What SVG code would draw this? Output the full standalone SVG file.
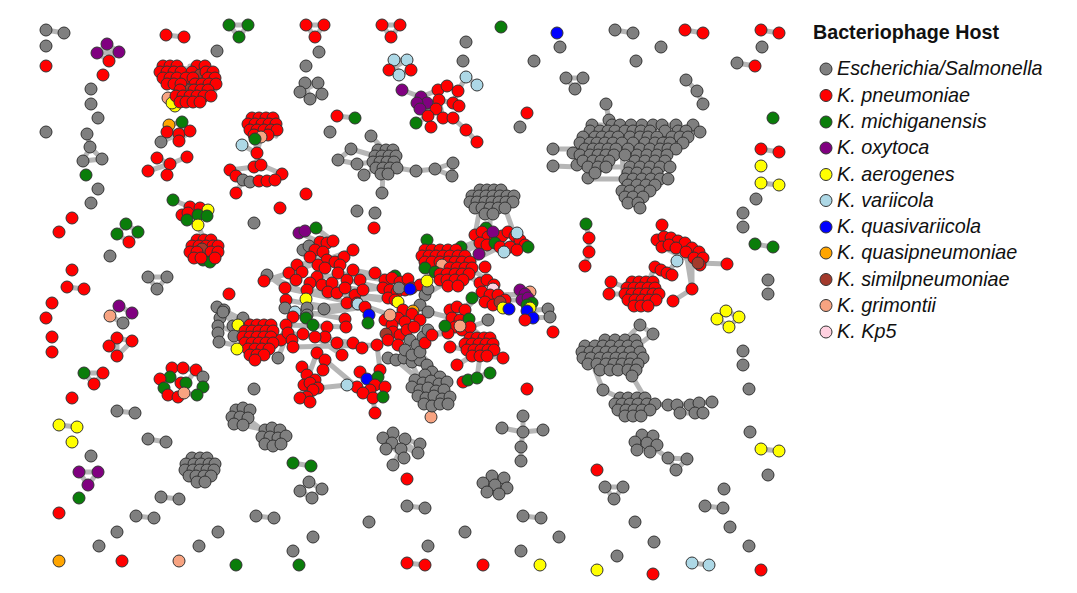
<svg xmlns="http://www.w3.org/2000/svg" width="1077" height="593" viewBox="0 0 1077 593">
<style>
.e{fill:none;stroke:#a9a9a9;stroke-width:5;stroke-linecap:round;stroke-linejoin:round;opacity:.85}
circle{stroke:#333;stroke-width:1}
.g{fill:#7f7f7f}.r{fill:#ff0000}.gn{fill:#0a7d0a}.p{fill:#800080}.y{fill:#ffff00}.lb{fill:#add8e6}.b{fill:#0000ff}.o{fill:#ffa500}.br{fill:#a33a2c}.s{fill:#f7a381}.pk{fill:#ffd1e0}
.lt{font-family:"Liberation Sans",Arial,sans-serif;font-size:19.8px;font-style:italic;fill:#111}
.tt{font-family:"Liberation Sans",Arial,sans-serif;font-size:19.7px;font-weight:bold;fill:#111}
</style>
<rect width="1077" height="593" fill="#fff"/>
<g id="edges">
<path class="e" d="M46,30 L64,33 M107,44 L97,53 L109,61 L119,52 Z M97,53 L119,52 M166,35 L184,37 M229,25 L248,25 L239,37 Z M87,134 L90,147 L83,161 L102,159 L90,147
M163,66 L213,72 M160,72 L216,84 M167,84 L211,96 M176,96 L200,102 M170,70 L183,102 M190,66 L205,100 M205,66 L215,90 M168,98 L180,92
M169,125 L182,122 L190,131 L179,141 L167,132 L169,125 M161,142 L179,134 M167,132 L190,131 M182,122 L179,141
M157,158 L170,164 L187,157 M148,171 L170,164 L167,175
M250,118 L276,136 M248,124 L277,130 M252,136 L273,118 M242,145 L257,153 L255,139 M261,137 L257,153 L257,167 M230,170 L254,167 L261,165 L282,174 M236,176 L259,181 L275,180 M243,180 L236,193 M250,182 L259,181 M243,180 L230,170
M306,25 L324,25 L315,37 Z M382,25 L400,25 L391,37 Z
M305,83 L318,83 L322,94 L310,99 L300,92 Z M305,83 L310,99 M318,83 L300,92
M394,60 L407,60 L411,70 L399,75 L389,70 Z M394,60 L399,75 M407,60 L389,70
M402,90 L421,97 L438,90 M417,103 L427,103 L439,100 M420,109 L436,109 M447,86 L458,91 L466,77 L477,85 M439,100 L453,103 L459,106 M436,109 L428,116 L431,127 M443,118 L453,118 L466,130 L477,142 M416,123 L428,116 M438,90 L447,86 M439,100 L443,118 M458,91 L453,103
M337,116 L355,118
M371,136 L384,150 M351,149 L338,160 L357,164 L373,162 M351,149 L375,156 M364,175 L376,168 M382,193 L383,174 M397,168 L416,171 L435,169 L453,163 L452,176 L435,169 M378,150 L390,168 M394,156 L381,174
M615,30 L633,33 M685,30 L703,33 M761,30 L779,33 M737,63 L755,66 M566,78 L583,78 L575,89 Z M686,80 L697,91 L703,104 M761,149 L779,152 M761,183 L779,185
M592,125 L676,125 M583,137 L688,137 M575,149 L676,149 M578,167 L670,167 M590,179 L668,179 M628,185 L655,185 M622,191 L650,191 M625,197 L640,208 M606,104 L609,120 L600,131 M693,125 L700,132 L686,131 M553,149 L580,149 M553,166 L578,167 M588,178 L590,161 M600,131 L590,179 M620,125 L625,197 M650,125 L660,185 M640,131 L640,208
M662,225 L664,237 M657,240 L703,258 M662,247 L700,265 M698,263 L727,264 M692,258 L692,289 L673,301 M677,261 L667,273 M655,267 L648,282 M611,282 L628,288 M609,294 L626,294 M632,282 L648,306 M627,288 L659,294 M625,294 L656,300 M653,282 L634,306 M686,252 L692,289
M586,224 L589,238 L589,252 L585,266 M755,244 L773,247 M726,311 L739,317 L729,327 L717,319 Z
M605,340 L635,340 M585,346 L637,346 M582,352 L640,352 M583,358 L643,358 M588,364 L638,364 M600,370 L636,370 M640,325 L653,334 L637,346 M640,325 L625,340 M595,370 L603,390 L620,398 M632,376 L645,398 M620,398 L645,398 M615,404 L655,404 M618,410 L650,410 M625,416 L641,416 M655,404 L668,405 L712,402 M680,413 L703,413 M677,405 L680,413 M699,403 L703,413
M642,435 L657,445 M635,442 L650,452 M647,443 L668,458 L687,459 L676,470 L668,458 M761,449 L779,451
M523,416 L523,432 L521,447 L521,461 M502,428 L523,432 L543,430
M492,476 L507,488 M483,483 L499,494 M504,478 L487,492
M407,506 L425,508 M523,516 L541,518 M705,506 L723,508 M407,563 L425,565 M692,563 L709,565 M605,487 L623,487 L614,499 Z
M393,433 L418,453 M383,438 L404,458 M405,439 L420,444 M401,449 L393,465 M392,443 L418,453
M309,482 L322,489 L312,498 L300,491 Z M293,463 L311,466
M117,411 L135,413 M59,425 L77,427 M148,439 L166,442 M79,472 L98,472 L88,485 Z M161,497 L179,499 M136,516 L154,518 M256,516 L274,518
M236,410 L281,444 M232,417 L250,410 M243,425 L265,430 M200,458 L200,482 M186,464 L214,470
M172,368 L183,368 L196,370 L203,377 L203,387 L197,395 L184,393 L178,397 L168,395 L164,388 L160,379 L170,377 L172,368 M181,383 L186,383 M170,377 L181,383 M196,370 L186,383
M126,224 L117,234 L129,242 L138,232 Z M67,287 L84,289 M148,277 L167,277 L157,289 Z M119,306 L132,313 L123,323 L110,316 Z
M117,338 L132,341 M109,346 L117,338 M109,346 L117,356 M132,341 L117,356 M117,338 L117,356 M84,373 L103,373 L94,384 Z
M173,200 L190,207 L200,208 L208,210 M182,215 L207,216 M187,220 L198,225 L204,240 M190,207 L187,220 M192,246 L218,252 M190,252 L215,258 M197,240 L203,263 M211,240 L203,263
M289,273 L353,250 M297,265 L344,257 M310,257 L335,262 M307,290 L355,295 M310,283 L363,290 M317,277 L375,273 M299,233 L320,242 M316,228 L333,241 M303,250 L320,242
M338,273 L385,280 M347,280 L390,290 M353,270 L392,278 M355,295 L388,298 M363,290 L383,288 M357,303 L390,315 M328,292 L380,300
M267,275 L300,290 M285,288 L340,300 M286,300 L345,310 M293,317 L365,307 M307,308 L358,304 M285,308 L345,319
M286,325 L346,327 M288,333 L353,343 M293,347 L377,345 M303,334 L362,348 M315,337 L342,355
M317,353 L300,398 M325,360 L310,402 M302,367 L318,388 M325,360 L357,387 M318,388 L347,385
M360,372 L385,387 M347,385 L383,397 M377,345 L380,370 M373,398 L375,413
M385,280 L420,285 M383,288 L412,288 M390,315 L428,330 M386,334 L425,343 M398,318 L432,335
M405,350 L420,380 M412,355 L432,372 M420,352 L440,377 M396,360 L448,404 M388,358 L427,365
M420,285 L440,265 M425,295 L450,280 M428,289 L430,268
M460,255 L480,243 M470,262 L500,247 M455,250 L487,237 M490,228 L490,214 M475,235 L480,208 M515,236 L505,208 M475,240 L528,247
M465,275 L485,285 M470,268 L494,285 M505,300 L522,300 M498,295 L525,294 M533,318 L550,317 M527,311 L548,309
M450,310 L470,327 M445,326 L469,319 M432,335 L455,327 M428,312 L452,318 M465,310 L482,292 M470,327 L490,320 M472,298 L465,310
M460,330 L472,338 M470,327 L484,338 M465,344 L494,350 M450,347 L470,350 M457,365 L472,356 M487,356 L503,358 M480,356 L477,378 M468,380 L490,373 M463,382 L468,380 M432,335 L448,333
M427,240 L432,250 M461,247 L475,245
M281,340 L286,325 M278,358 L288,333 M264,281 L289,273 M267,275 L285,288
M224,310 L255,330 M218,326 L250,337 M219,342 L255,349 M233,326 L264,337 M243,318 L270,330 M217,307 L243,320 M223,312 L235,325 M233,337 L242,337 M238,325 L250,325 M237,349 L250,349"/>
</g>
<g id="legend">
<text class="tt" x="813" y="39">Bacteriophage Host</text>
<circle class="g" cx="826" cy="69" r="6"/><text class="lt" x="837" y="75">Escherichia/Salmonella</text>
<circle class="r" cx="826" cy="95.5" r="6"/><text class="lt" x="837" y="101.5">K. pneumoniae</text>
<circle class="gn" cx="826" cy="122" r="6"/><text class="lt" x="837" y="128">K. michiganensis</text>
<circle class="p" cx="826" cy="148" r="6"/><text class="lt" x="837" y="154">K. oxytoca</text>
<circle class="y" cx="826" cy="174.5" r="6"/><text class="lt" x="837" y="180.5">K. aerogenes</text>
<circle class="lb" cx="826" cy="200.5" r="6"/><text class="lt" x="837" y="206.5">K. variicola</text>
<circle class="b" cx="826" cy="227" r="6"/><text class="lt" x="837" y="233">K. quasivariicola</text>
<circle class="o" cx="826" cy="253" r="6"/><text class="lt" x="837" y="259">K. quasipneumoniae</text>
<circle class="br" cx="826" cy="279.5" r="6"/><text class="lt" x="837" y="285.5">K. similpneumoniae</text>
<circle class="s" cx="826" cy="305.5" r="6"/><text class="lt" x="837" y="311.5">K. grimontii</text>
<circle class="pk" cx="826" cy="332" r="6"/><text class="lt" x="837" y="338">K. Kp5</text>
</g>
<g id="left-column">
<circle class="g" cx="46" cy="30" r="6"/><circle class="g" cx="64" cy="33" r="6"/>
<circle class="g" cx="46" cy="46" r="6"/><circle class="r" cx="46" cy="66" r="6"/>
<circle class="p" cx="107" cy="44" r="6"/><circle class="p" cx="97" cy="53" r="6"/><circle class="p" cx="119" cy="52" r="6"/><circle class="r" cx="109" cy="61" r="6"/>
<circle class="r" cx="103" cy="75" r="6"/>
<circle class="g" cx="91" cy="89" r="6"/><circle class="g" cx="91" cy="104" r="6"/><circle class="g" cx="98" cy="118" r="6"/>
<circle class="g" cx="46" cy="132" r="6"/>
<circle class="g" cx="87" cy="134" r="6"/><circle class="g" cx="90" cy="147" r="6"/><circle class="g" cx="83" cy="161" r="6"/><circle class="g" cx="102" cy="159" r="6"/>
<circle class="gn" cx="86" cy="175" r="6"/><circle class="g" cx="98" cy="189" r="6"/><circle class="g" cx="91" cy="203" r="6"/>
<circle class="r" cx="72" cy="218" r="6"/><circle class="r" cx="59" cy="232" r="6"/>
<circle class="gn" cx="126" cy="224" r="6"/><circle class="gn" cx="117" cy="234" r="6"/><circle class="gn" cx="138" cy="232" r="6"/><circle class="r" cx="129" cy="242" r="6"/>
<circle class="g" cx="110" cy="256" r="6"/><circle class="r" cx="72" cy="270" r="6"/>
<circle class="r" cx="67" cy="287" r="6"/><circle class="r" cx="84" cy="289" r="6"/>
<circle class="g" cx="148" cy="277" r="6"/><circle class="g" cx="167" cy="277" r="6"/><circle class="g" cx="157" cy="289" r="6"/>
<circle class="r" cx="52" cy="303" r="6"/><circle class="r" cx="46" cy="318" r="6"/>
<circle class="p" cx="119" cy="306" r="6"/><circle class="p" cx="132" cy="313" r="6"/><circle class="s" cx="110" cy="316" r="6"/><circle class="g" cx="123" cy="323" r="6"/>
<circle class="r" cx="52" cy="337" r="6"/><circle class="r" cx="52" cy="352" r="6"/>
<circle class="r" cx="117" cy="338" r="6"/><circle class="r" cx="132" cy="341" r="6"/><circle class="r" cx="109" cy="346" r="6"/><circle class="r" cx="117" cy="356" r="6"/>
<circle class="gn" cx="84" cy="373" r="6"/><circle class="r" cx="103" cy="373" r="6"/><circle class="r" cx="94" cy="384" r="6"/>
<circle class="r" cx="72" cy="398" r="6"/>
<circle class="g" cx="117" cy="411" r="6"/><circle class="g" cx="135" cy="413" r="6"/>
<circle class="y" cx="59" cy="425" r="6"/><circle class="y" cx="77" cy="427" r="6"/><circle class="y" cx="72" cy="442" r="6"/>
<circle class="g" cx="148" cy="439" r="6"/><circle class="g" cx="166" cy="442" r="6"/>
<circle class="g" cx="91" cy="456" r="6"/>
<circle class="p" cx="79" cy="472" r="6"/><circle class="p" cx="98" cy="472" r="6"/><circle class="p" cx="88" cy="485" r="6"/>
<circle class="gn" cx="79" cy="498" r="6"/><circle class="r" cx="59" cy="513" r="6"/>
<circle class="g" cx="161" cy="497" r="6"/><circle class="g" cx="179" cy="499" r="6"/>
<circle class="g" cx="136" cy="516" r="6"/><circle class="g" cx="154" cy="518" r="6"/>
<circle class="g" cx="117" cy="532" r="6"/><circle class="g" cx="99" cy="546" r="6"/>
<circle class="g" cx="218" cy="532" r="6"/><circle class="g" cx="199" cy="546" r="6"/>
<circle class="o" cx="59" cy="561" r="6"/><circle class="r" cx="122" cy="561" r="6"/><circle class="s" cx="179" cy="561" r="6"/><circle class="gn" cx="236" cy="565" r="6"/>
<circle class="g" cx="256" cy="516" r="6"/><circle class="g" cx="274" cy="518" r="6"/>
<circle class="g" cx="293" cy="551" r="6"/><circle class="gn" cx="299" cy="565" r="6"/>
</g>
<g id="cluster-topleft">
<circle class="r" cx="163" cy="66" r="6"/><circle class="r" cx="170" cy="66" r="6"/><circle class="r" cx="177" cy="66" r="6"/><circle class="r" cx="197" cy="66" r="6"/><circle class="r" cx="205" cy="66" r="6"/>
<circle class="r" cx="160" cy="72" r="6"/><circle class="r" cx="167" cy="72" r="6"/><circle class="r" cx="174" cy="72" r="6"/><circle class="r" cx="181" cy="72" r="6"/><circle class="r" cx="192" cy="72" r="6"/><circle class="br" cx="200" cy="75" r="6"/><circle class="r" cx="206" cy="72" r="6"/><circle class="r" cx="213" cy="72" r="6"/>
<circle class="r" cx="163" cy="78" r="6"/><circle class="r" cx="170" cy="78" r="6"/><circle class="r" cx="177" cy="78" r="6"/><circle class="r" cx="186" cy="78" r="6"/><circle class="r" cx="193" cy="78" r="6"/><circle class="r" cx="208" cy="78" r="6"/><circle class="r" cx="215" cy="78" r="6"/>
<circle class="r" cx="167" cy="84" r="6"/><circle class="r" cx="174" cy="84" r="6"/><circle class="r" cx="181" cy="84" r="6"/><circle class="r" cx="195" cy="84" r="6"/><circle class="r" cx="202" cy="84" r="6"/><circle class="r" cx="209" cy="84" r="6"/><circle class="r" cx="216" cy="84" r="6"/>
<circle class="br" cx="190" cy="90" r="6"/><circle class="r" cx="180" cy="90" r="6"/><circle class="r" cx="194" cy="90" r="6"/><circle class="r" cx="201" cy="90" r="6"/><circle class="r" cx="208" cy="90" r="6"/>
<circle class="s" cx="168" cy="98" r="6"/><circle class="y" cx="175" cy="106" r="6"/><circle class="y" cx="172" cy="103" r="6"/>
<circle class="r" cx="176" cy="96" r="6"/><circle class="r" cx="183" cy="96" r="6"/><circle class="r" cx="190" cy="96" r="6"/><circle class="r" cx="197" cy="96" r="6"/><circle class="r" cx="204" cy="96" r="6"/><circle class="r" cx="211" cy="96" r="6"/>
<circle class="r" cx="180" cy="102" r="6"/><circle class="r" cx="186" cy="102" r="6"/><circle class="r" cx="193" cy="102" r="6"/><circle class="r" cx="200" cy="102" r="6"/>
<circle class="r" cx="166" cy="35" r="6"/><circle class="r" cx="184" cy="37" r="6"/>
<circle class="gn" cx="229" cy="25" r="6"/><circle class="gn" cx="248" cy="25" r="6"/><circle class="gn" cx="239" cy="37" r="6"/>
<circle class="g" cx="217" cy="51" r="6"/>
<circle class="g" cx="161" cy="142" r="6"/><circle class="o" cx="169" cy="125" r="6"/><circle class="gn" cx="182" cy="122" r="6"/><circle class="r" cx="167" cy="132" r="6"/><circle class="r" cx="179" cy="134" r="6"/><circle class="r" cx="190" cy="131" r="6"/><circle class="r" cx="179" cy="141" r="6"/>
<circle class="r" cx="157" cy="158" r="6"/><circle class="r" cx="187" cy="157" r="6"/><circle class="r" cx="170" cy="164" r="6"/><circle class="r" cx="148" cy="171" r="6"/><circle class="r" cx="167" cy="175" r="6"/>
</g>
<g id="cluster-oval">
<circle class="r" cx="252" cy="118" r="6"/><circle class="r" cx="259" cy="118" r="6"/><circle class="r" cx="266" cy="118" r="6"/><circle class="r" cx="273" cy="118" r="6"/>
<circle class="r" cx="248" cy="124" r="6"/><circle class="r" cx="255" cy="124" r="6"/><circle class="r" cx="262" cy="124" r="6"/><circle class="r" cx="269" cy="124" r="6"/><circle class="r" cx="276" cy="124" r="6"/>
<circle class="r" cx="250" cy="130" r="6"/><circle class="r" cx="257" cy="130" r="6"/><circle class="r" cx="264" cy="130" r="6"/><circle class="r" cx="271" cy="130" r="6"/><circle class="r" cx="277" cy="130" r="6"/>
<circle class="r" cx="254" cy="135" r="6"/><circle class="r" cx="268" cy="135" r="6"/><circle class="s" cx="261" cy="137" r="6"/><circle class="gn" cx="255" cy="139" r="6"/><circle class="lb" cx="242" cy="145" r="6"/>
<circle class="r" cx="257" cy="153" r="6"/>
<circle class="r" cx="230" cy="170" r="6"/><circle class="r" cx="236" cy="176" r="6"/><circle class="r" cx="254" cy="167" r="6"/><circle class="r" cx="261" cy="165" r="6"/><circle class="r" cx="282" cy="174" r="6"/>
<circle class="g" cx="243" cy="180" r="6"/><circle class="g" cx="250" cy="182" r="6"/><circle class="r" cx="259" cy="181" r="6"/><circle class="r" cx="267" cy="181" r="6"/><circle class="r" cx="275" cy="180" r="6"/>
<circle class="r" cx="236" cy="193" r="6"/>
</g>
<g id="top-middle">
<circle class="r" cx="306" cy="25" r="6"/><circle class="r" cx="324" cy="25" r="6"/><circle class="r" cx="315" cy="37" r="6"/>
<circle class="r" cx="382" cy="25" r="6"/><circle class="r" cx="400" cy="25" r="6"/><circle class="r" cx="391" cy="37" r="6"/>
<circle class="gn" cx="501" cy="27" r="6"/><circle class="b" cx="557" cy="33" r="6"/><circle class="g" cx="560" cy="47" r="6"/>
<circle class="g" cx="319" cy="52" r="6"/><circle class="g" cx="306" cy="66" r="6"/>
<circle class="g" cx="305" cy="83" r="6"/><circle class="g" cx="318" cy="83" r="6"/><circle class="g" cx="300" cy="92" r="6"/><circle class="g" cx="322" cy="94" r="6"/><circle class="g" cx="310" cy="99" r="6"/>
<circle class="lb" cx="394" cy="60" r="6"/><circle class="lb" cx="407" cy="60" r="6"/><circle class="r" cx="389" cy="70" r="6"/><circle class="r" cx="411" cy="70" r="6"/><circle class="lb" cx="399" cy="75" r="6"/>
<circle class="g" cx="466" cy="42" r="6"/><circle class="g" cx="463" cy="61" r="6"/><circle class="g" cx="534" cy="61" r="6"/>
<circle class="lb" cx="466" cy="77" r="6"/><circle class="lb" cx="477" cy="85" r="6"/>
<circle class="p" cx="402" cy="90" r="6"/><circle class="r" cx="438" cy="90" r="6"/><circle class="r" cx="447" cy="86" r="6"/><circle class="r" cx="458" cy="91" r="6"/>
<circle class="p" cx="421" cy="97" r="6"/><circle class="r" cx="439" cy="100" r="6"/><circle class="r" cx="453" cy="103" r="6"/><circle class="r" cx="459" cy="106" r="6"/>
<circle class="p" cx="427" cy="103" r="6"/><circle class="p" cx="417" cy="103" r="6"/><circle class="p" cx="420" cy="109" r="6"/><circle class="r" cx="436" cy="109" r="6"/>
<circle class="r" cx="428" cy="116" r="6"/><circle class="r" cx="443" cy="118" r="6"/><circle class="r" cx="453" cy="118" r="6"/><circle class="gn" cx="416" cy="123" r="6"/>
<circle class="r" cx="431" cy="127" r="6"/><circle class="r" cx="466" cy="130" r="6"/><circle class="r" cx="477" cy="142" r="6"/>
<circle class="r" cx="527" cy="113" r="6"/><circle class="g" cx="520" cy="127" r="6"/>
<circle class="r" cx="337" cy="116" r="6"/><circle class="gn" cx="355" cy="118" r="6"/><circle class="g" cx="330" cy="132" r="6"/>
<circle class="r" cx="306" cy="194" r="6"/>
</g>
<g id="cluster-grey-mid">
<circle class="g" cx="371" cy="136" r="6"/><circle class="g" cx="351" cy="149" r="6"/><circle class="g" cx="338" cy="160" r="6"/><circle class="g" cx="357" cy="164" r="6"/><circle class="g" cx="364" cy="175" r="6"/><circle class="g" cx="382" cy="193" r="6"/>
<circle class="g" cx="378" cy="150" r="6"/><circle class="g" cx="386" cy="150" r="6"/><circle class="g" cx="393" cy="150" r="6"/>
<circle class="g" cx="375" cy="156" r="6"/><circle class="g" cx="382" cy="156" r="6"/><circle class="g" cx="389" cy="156" r="6"/><circle class="g" cx="396" cy="156" r="6"/>
<circle class="g" cx="373" cy="162" r="6"/><circle class="g" cx="380" cy="162" r="6"/><circle class="g" cx="387" cy="162" r="6"/><circle class="g" cx="394" cy="162" r="6"/>
<circle class="g" cx="376" cy="168" r="6"/><circle class="g" cx="383" cy="168" r="6"/><circle class="g" cx="390" cy="168" r="6"/><circle class="g" cx="397" cy="168" r="6"/>
<circle class="g" cx="381" cy="174" r="6"/><circle class="g" cx="388" cy="174" r="6"/>
<circle class="g" cx="416" cy="171" r="6"/><circle class="g" cx="435" cy="169" r="6"/><circle class="g" cx="453" cy="163" r="6"/><circle class="g" cx="452" cy="176" r="6"/>
</g>
<g id="top-right">
<circle class="g" cx="615" cy="30" r="6"/><circle class="g" cx="633" cy="33" r="6"/>
<circle class="r" cx="685" cy="30" r="6"/><circle class="r" cx="703" cy="33" r="6"/>
<circle class="r" cx="761" cy="30" r="6"/><circle class="r" cx="779" cy="33" r="6"/>
<circle class="g" cx="661" cy="47" r="6"/><circle class="g" cx="762" cy="47" r="6"/><circle class="g" cx="636" cy="61" r="6"/>
<circle class="g" cx="737" cy="63" r="6"/><circle class="r" cx="755" cy="66" r="6"/>
<circle class="g" cx="566" cy="78" r="6"/><circle class="g" cx="583" cy="78" r="6"/><circle class="g" cx="575" cy="89" r="6"/>
<circle class="g" cx="686" cy="80" r="6"/><circle class="g" cx="697" cy="91" r="6"/><circle class="g" cx="703" cy="104" r="6"/>
<circle class="gn" cx="773" cy="118" r="6"/>
<circle class="r" cx="761" cy="149" r="6"/><circle class="r" cx="779" cy="152" r="6"/>
<circle class="y" cx="761" cy="166" r="6"/><circle class="y" cx="761" cy="183" r="6"/><circle class="y" cx="779" cy="185" r="6"/>
<circle class="g" cx="756" cy="199" r="6"/><circle class="g" cx="743" cy="213" r="6"/><circle class="g" cx="743" cy="227" r="6"/>
<circle class="gn" cx="755" cy="244" r="6"/><circle class="gn" cx="773" cy="247" r="6"/>
<circle class="g" cx="768" cy="280" r="6"/><circle class="g" cx="768" cy="294" r="6"/>
<circle class="y" cx="726" cy="311" r="6"/><circle class="y" cx="717" cy="319" r="6"/><circle class="y" cx="739" cy="317" r="6"/><circle class="y" cx="729" cy="327" r="6"/>
<circle class="g" cx="743" cy="351" r="6"/><circle class="g" cx="743" cy="365" r="6"/><circle class="g" cx="749" cy="389" r="6"/>
<circle class="g" cx="750" cy="432" r="6"/><circle class="y" cx="761" cy="449" r="6"/><circle class="y" cx="779" cy="451" r="6"/><circle class="g" cx="768" cy="475" r="6"/>
</g>
<g id="cluster-grey-right">
<circle class="g" cx="606" cy="104" r="6"/><circle class="g" cx="609" cy="120" r="6"/><circle class="g" cx="693" cy="125" r="6"/><circle class="g" cx="700" cy="132" r="6"/>
<circle class="g" cx="553" cy="149" r="6"/><circle class="g" cx="553" cy="166" r="6"/><circle class="g" cx="573" cy="153" r="6"/><circle class="g" cx="577" cy="165" r="6"/><circle class="g" cx="588" cy="178" r="6"/>
<circle class="g" cx="592" cy="125" r="6"/><circle class="g" cx="612" cy="125" r="6"/><circle class="g" cx="620" cy="125" r="6"/><circle class="g" cx="631" cy="125" r="6"/><circle class="g" cx="642" cy="125" r="6"/><circle class="g" cx="653" cy="125" r="6"/><circle class="g" cx="662" cy="125" r="6"/><circle class="g" cx="676" cy="125" r="6"/>
<circle class="g" cx="590" cy="131" r="6"/><circle class="g" cx="600" cy="131" r="6"/><circle class="g" cx="608" cy="131" r="6"/><circle class="g" cx="615" cy="131" r="6"/><circle class="g" cx="625" cy="131" r="6"/><circle class="g" cx="633" cy="131" r="6"/><circle class="g" cx="641" cy="131" r="6"/><circle class="g" cx="650" cy="131" r="6"/><circle class="g" cx="665" cy="131" r="6"/><circle class="g" cx="678" cy="131" r="6"/><circle class="g" cx="686" cy="131" r="6"/>
<circle class="g" cx="583" cy="137" r="6"/><circle class="g" cx="595" cy="137" r="6"/><circle class="g" cx="602" cy="137" r="6"/><circle class="g" cx="610" cy="137" r="6"/><circle class="g" cx="618" cy="137" r="6"/><circle class="g" cx="630" cy="137" r="6"/><circle class="g" cx="640" cy="137" r="6"/><circle class="g" cx="648" cy="137" r="6"/><circle class="g" cx="657" cy="137" r="6"/><circle class="g" cx="672" cy="137" r="6"/><circle class="g" cx="680" cy="137" r="6"/><circle class="g" cx="688" cy="137" r="6"/>
<circle class="g" cx="580" cy="143" r="6"/><circle class="g" cx="590" cy="143" r="6"/><circle class="g" cx="597" cy="143" r="6"/><circle class="g" cx="605" cy="143" r="6"/><circle class="g" cx="613" cy="143" r="6"/><circle class="g" cx="622" cy="143" r="6"/><circle class="g" cx="633" cy="143" r="6"/><circle class="g" cx="645" cy="143" r="6"/><circle class="g" cx="655" cy="143" r="6"/><circle class="g" cx="663" cy="143" r="6"/><circle class="g" cx="670" cy="143" r="6"/><circle class="g" cx="683" cy="143" r="6"/>
<circle class="g" cx="585" cy="149" r="6"/><circle class="g" cx="593" cy="149" r="6"/><circle class="g" cx="600" cy="149" r="6"/><circle class="g" cx="608" cy="149" r="6"/><circle class="g" cx="616" cy="149" r="6"/><circle class="g" cx="628" cy="149" r="6"/><circle class="g" cx="640" cy="149" r="6"/><circle class="g" cx="650" cy="149" r="6"/><circle class="g" cx="660" cy="149" r="6"/><circle class="g" cx="668" cy="149" r="6"/><circle class="g" cx="676" cy="149" r="6"/>
<circle class="g" cx="580" cy="155" r="6"/><circle class="g" cx="590" cy="155" r="6"/><circle class="g" cx="598" cy="155" r="6"/><circle class="g" cx="606" cy="155" r="6"/><circle class="g" cx="614" cy="155" r="6"/><circle class="g" cx="625" cy="155" r="6"/><circle class="g" cx="637" cy="155" r="6"/><circle class="g" cx="647" cy="155" r="6"/><circle class="g" cx="657" cy="155" r="6"/><circle class="g" cx="667" cy="155" r="6"/>
<circle class="g" cx="583" cy="161" r="6"/><circle class="g" cx="593" cy="161" r="6"/><circle class="g" cx="601" cy="161" r="6"/><circle class="g" cx="609" cy="161" r="6"/><circle class="g" cx="635" cy="161" r="6"/><circle class="g" cx="645" cy="161" r="6"/><circle class="g" cx="655" cy="161" r="6"/><circle class="g" cx="665" cy="161" r="6"/>
<circle class="g" cx="588" cy="167" r="6"/><circle class="g" cx="598" cy="167" r="6"/><circle class="g" cx="606" cy="167" r="6"/><circle class="g" cx="630" cy="167" r="6"/><circle class="g" cx="640" cy="167" r="6"/><circle class="g" cx="650" cy="167" r="6"/><circle class="g" cx="660" cy="167" r="6"/><circle class="g" cx="670" cy="167" r="6"/>
<circle class="g" cx="595" cy="173" r="6"/><circle class="g" cx="628" cy="173" r="6"/><circle class="g" cx="637" cy="173" r="6"/><circle class="g" cx="647" cy="173" r="6"/><circle class="g" cx="657" cy="173" r="6"/>
<circle class="g" cx="625" cy="179" r="6"/><circle class="g" cx="633" cy="179" r="6"/><circle class="g" cx="642" cy="179" r="6"/><circle class="g" cx="651" cy="179" r="6"/><circle class="g" cx="660" cy="179" r="6"/><circle class="g" cx="668" cy="179" r="6"/>
<circle class="g" cx="628" cy="185" r="6"/><circle class="g" cx="637" cy="185" r="6"/><circle class="g" cx="646" cy="185" r="6"/><circle class="g" cx="655" cy="185" r="6"/>
<circle class="g" cx="622" cy="191" r="6"/><circle class="g" cx="630" cy="191" r="6"/><circle class="g" cx="640" cy="191" r="6"/><circle class="g" cx="650" cy="191" r="6"/>
<circle class="g" cx="625" cy="197" r="6"/><circle class="g" cx="633" cy="197" r="6"/><circle class="g" cx="643" cy="197" r="6"/>
<circle class="g" cx="628" cy="203" r="6"/><circle class="g" cx="638" cy="203" r="6"/><circle class="g" cx="640" cy="208" r="6"/>
</g>
<g id="cluster-red-right">
<circle class="gn" cx="586" cy="224" r="6"/><circle class="r" cx="589" cy="238" r="6"/><circle class="r" cx="589" cy="252" r="6"/><circle class="r" cx="585" cy="266" r="6"/>
<circle class="r" cx="662" cy="225" r="6"/>
<circle class="r" cx="657" cy="240" r="6"/><circle class="r" cx="664" cy="237" r="6"/><circle class="r" cx="671" cy="238" r="6"/><circle class="r" cx="678" cy="241" r="6"/><circle class="r" cx="685" cy="243" r="6"/><circle class="r" cx="692" cy="248" r="6"/>
<circle class="r" cx="662" cy="247" r="6"/><circle class="r" cx="669" cy="245" r="6"/><circle class="r" cx="676" cy="248" r="6"/><circle class="r" cx="686" cy="252" r="6"/><circle class="r" cx="699" cy="252" r="6"/>
<circle class="r" cx="694" cy="258" r="6"/><circle class="r" cx="703" cy="258" r="6"/><circle class="r" cx="700" cy="265" r="6"/><circle class="br" cx="698" cy="263" r="6"/><circle class="lb" cx="677" cy="261" r="6"/>
<circle class="r" cx="727" cy="264" r="6"/><circle class="r" cx="692" cy="289" r="6"/><circle class="r" cx="673" cy="301" r="6"/>
<circle class="r" cx="655" cy="267" r="6"/><circle class="r" cx="661" cy="270" r="6"/><circle class="r" cx="667" cy="273" r="6"/><circle class="r" cx="672" cy="275" r="6"/>
<circle class="r" cx="611" cy="282" r="6"/><circle class="r" cx="609" cy="294" r="6"/>
<circle class="r" cx="632" cy="282" r="6"/><circle class="r" cx="639" cy="282" r="6"/><circle class="r" cx="646" cy="282" r="6"/><circle class="r" cx="653" cy="282" r="6"/>
<circle class="r" cx="627" cy="288" r="6"/><circle class="r" cx="634" cy="288" r="6"/><circle class="r" cx="641" cy="288" r="6"/><circle class="r" cx="648" cy="288" r="6"/><circle class="r" cx="655" cy="288" r="6"/>
<circle class="r" cx="625" cy="294" r="6"/><circle class="r" cx="632" cy="294" r="6"/><circle class="r" cx="639" cy="294" r="6"/><circle class="r" cx="646" cy="294" r="6"/><circle class="r" cx="653" cy="294" r="6"/><circle class="r" cx="659" cy="294" r="6"/>
<circle class="r" cx="628" cy="300" r="6"/><circle class="r" cx="635" cy="300" r="6"/><circle class="r" cx="642" cy="300" r="6"/><circle class="r" cx="649" cy="300" r="6"/><circle class="r" cx="656" cy="300" r="6"/>
<circle class="r" cx="634" cy="306" r="6"/><circle class="r" cx="641" cy="306" r="6"/><circle class="r" cx="648" cy="306" r="6"/>
</g>
<g id="cluster-grey-lowright">
<circle class="g" cx="640" cy="325" r="6"/><circle class="g" cx="653" cy="334" r="6"/>
<circle class="g" cx="605" cy="340" r="6"/><circle class="g" cx="615" cy="340" r="6"/><circle class="g" cx="625" cy="340" r="6"/><circle class="g" cx="635" cy="340" r="6"/>
<circle class="g" cx="585" cy="346" r="6"/><circle class="g" cx="595" cy="346" r="6"/><circle class="g" cx="603" cy="346" r="6"/><circle class="g" cx="611" cy="346" r="6"/><circle class="g" cx="620" cy="346" r="6"/><circle class="g" cx="628" cy="346" r="6"/><circle class="g" cx="637" cy="346" r="6"/>
<circle class="g" cx="582" cy="352" r="6"/><circle class="g" cx="590" cy="352" r="6"/><circle class="g" cx="598" cy="352" r="6"/><circle class="g" cx="606" cy="352" r="6"/><circle class="g" cx="614" cy="352" r="6"/><circle class="g" cx="622" cy="352" r="6"/><circle class="g" cx="630" cy="352" r="6"/><circle class="g" cx="640" cy="352" r="6"/>
<circle class="g" cx="583" cy="358" r="6"/><circle class="g" cx="591" cy="358" r="6"/><circle class="g" cx="600" cy="358" r="6"/><circle class="g" cx="608" cy="358" r="6"/><circle class="g" cx="616" cy="358" r="6"/><circle class="g" cx="624" cy="358" r="6"/><circle class="g" cx="632" cy="358" r="6"/><circle class="g" cx="643" cy="358" r="6"/>
<circle class="g" cx="588" cy="364" r="6"/><circle class="g" cx="597" cy="364" r="6"/><circle class="g" cx="606" cy="364" r="6"/><circle class="g" cx="614" cy="364" r="6"/><circle class="g" cx="622" cy="364" r="6"/><circle class="g" cx="630" cy="364" r="6"/><circle class="g" cx="638" cy="364" r="6"/>
<circle class="g" cx="600" cy="370" r="6"/><circle class="g" cx="610" cy="370" r="6"/><circle class="g" cx="618" cy="370" r="6"/><circle class="g" cx="628" cy="370" r="6"/><circle class="g" cx="636" cy="370" r="6"/><circle class="g" cx="632" cy="376" r="6"/>
<circle class="g" cx="603" cy="390" r="6"/>
<circle class="g" cx="620" cy="398" r="6"/><circle class="g" cx="628" cy="398" r="6"/><circle class="g" cx="637" cy="398" r="6"/><circle class="g" cx="645" cy="398" r="6"/>
<circle class="g" cx="615" cy="404" r="6"/><circle class="g" cx="622" cy="404" r="6"/><circle class="g" cx="630" cy="404" r="6"/><circle class="g" cx="638" cy="404" r="6"/><circle class="g" cx="647" cy="404" r="6"/><circle class="g" cx="655" cy="404" r="6"/>
<circle class="g" cx="618" cy="410" r="6"/><circle class="g" cx="626" cy="410" r="6"/><circle class="g" cx="634" cy="410" r="6"/><circle class="g" cx="642" cy="410" r="6"/><circle class="g" cx="650" cy="410" r="6"/>
<circle class="g" cx="625" cy="416" r="6"/><circle class="g" cx="633" cy="416" r="6"/><circle class="g" cx="641" cy="416" r="6"/>
<circle class="g" cx="668" cy="405" r="6"/><circle class="g" cx="677" cy="405" r="6"/><circle class="g" cx="690" cy="405" r="6"/><circle class="g" cx="699" cy="403" r="6"/><circle class="g" cx="712" cy="402" r="6"/><circle class="g" cx="680" cy="413" r="6"/><circle class="g" cx="695" cy="413" r="6"/><circle class="g" cx="703" cy="413" r="6"/>
</g>
<g id="bottom-right">
<circle class="g" cx="642" cy="435" r="6"/><circle class="g" cx="653" cy="436" r="6"/><circle class="g" cx="635" cy="442" r="6"/><circle class="g" cx="647" cy="443" r="6"/><circle class="g" cx="657" cy="445" r="6"/><circle class="g" cx="637" cy="450" r="6"/><circle class="g" cx="650" cy="452" r="6"/><circle class="g" cx="668" cy="458" r="6"/><circle class="g" cx="687" cy="459" r="6"/><circle class="g" cx="676" cy="470" r="6"/>
<circle class="r" cx="597" cy="470" r="6"/>
<circle class="g" cx="605" cy="487" r="6"/><circle class="g" cx="623" cy="487" r="6"/><circle class="g" cx="614" cy="499" r="6"/>
<circle class="g" cx="724" cy="489" r="6"/><circle class="g" cx="705" cy="506" r="6"/><circle class="g" cx="723" cy="508" r="6"/><circle class="g" cx="730" cy="527" r="6"/><circle class="g" cx="749" cy="546" r="6"/>
<circle class="g" cx="635" cy="522" r="6"/><circle class="g" cx="559" cy="537" r="6"/><circle class="g" cx="654" cy="542" r="6"/><circle class="g" cx="617" cy="556" r="6"/>
<circle class="y" cx="597" cy="570" r="6"/><circle class="r" cx="653" cy="574" r="6"/><circle class="lb" cx="692" cy="563" r="6"/><circle class="lb" cx="709" cy="565" r="6"/><circle class="r" cx="761" cy="570" r="6"/>
</g>
<g id="bottom-middle">
<circle class="s" cx="431" cy="417" r="6"/>
<circle class="g" cx="523" cy="416" r="6"/><circle class="g" cx="502" cy="428" r="6"/><circle class="g" cx="523" cy="432" r="6"/><circle class="g" cx="543" cy="430" r="6"/><circle class="g" cx="521" cy="447" r="6"/><circle class="g" cx="521" cy="461" r="6"/>
<circle class="g" cx="393" cy="433" r="6"/><circle class="g" cx="383" cy="438" r="6"/><circle class="g" cx="405" cy="439" r="6"/><circle class="g" cx="392" cy="443" r="6"/><circle class="g" cx="420" cy="444" r="6"/><circle class="g" cx="386" cy="449" r="6"/><circle class="g" cx="401" cy="449" r="6"/><circle class="g" cx="418" cy="453" r="6"/><circle class="g" cx="404" cy="458" r="6"/><circle class="g" cx="393" cy="465" r="6"/>
<circle class="gn" cx="293" cy="463" r="6"/><circle class="gn" cx="311" cy="466" r="6"/>
<circle class="g" cx="309" cy="482" r="6"/><circle class="g" cx="300" cy="491" r="6"/><circle class="g" cx="322" cy="489" r="6"/><circle class="g" cx="312" cy="498" r="6"/>
<circle class="r" cx="407" cy="479" r="6"/>
<circle class="g" cx="492" cy="476" r="6"/><circle class="g" cx="504" cy="478" r="6"/><circle class="g" cx="483" cy="483" r="6"/><circle class="g" cx="495" cy="485" r="6"/><circle class="g" cx="507" cy="488" r="6"/><circle class="g" cx="487" cy="492" r="6"/><circle class="g" cx="499" cy="494" r="6"/>
<circle class="g" cx="407" cy="506" r="6"/><circle class="g" cx="425" cy="508" r="6"/><circle class="g" cx="369" cy="522" r="6"/>
<circle class="g" cx="523" cy="516" r="6"/><circle class="g" cx="541" cy="518" r="6"/>
<circle class="g" cx="313" cy="537" r="6"/><circle class="g" cx="465" cy="532" r="6"/><circle class="g" cx="428" cy="546" r="6"/><circle class="g" cx="521" cy="551" r="6"/>
<circle class="r" cx="407" cy="563" r="6"/><circle class="r" cx="425" cy="565" r="6"/><circle class="r" cx="483" cy="565" r="6"/><circle class="y" cx="540" cy="565" r="6"/>
</g>
<g id="bottom-left">
<circle class="g" cx="236" cy="410" r="6"/><circle class="g" cx="243" cy="408" r="6"/><circle class="g" cx="250" cy="410" r="6"/><circle class="g" cx="232" cy="417" r="6"/><circle class="g" cx="240" cy="417" r="6"/><circle class="g" cx="248" cy="418" r="6"/><circle class="g" cx="234" cy="424" r="6"/><circle class="g" cx="243" cy="425" r="6"/>
<circle class="g" cx="265" cy="430" r="6"/><circle class="g" cx="272" cy="428" r="6"/><circle class="g" cx="280" cy="430" r="6"/><circle class="g" cx="262" cy="437" r="6"/><circle class="g" cx="270" cy="437" r="6"/><circle class="g" cx="278" cy="438" r="6"/><circle class="g" cx="286" cy="436" r="6"/><circle class="g" cx="265" cy="444" r="6"/><circle class="g" cx="273" cy="446" r="6"/><circle class="g" cx="281" cy="444" r="6"/>
<circle class="g" cx="192" cy="458" r="6"/><circle class="g" cx="200" cy="458" r="6"/><circle class="g" cx="207" cy="458" r="6"/>
<circle class="g" cx="186" cy="464" r="6"/><circle class="g" cx="194" cy="464" r="6"/><circle class="g" cx="201" cy="464" r="6"/><circle class="g" cx="209" cy="464" r="6"/><circle class="g" cx="215" cy="464" r="6"/>
<circle class="g" cx="185" cy="470" r="6"/><circle class="g" cx="193" cy="470" r="6"/><circle class="g" cx="200" cy="470" r="6"/><circle class="g" cx="207" cy="470" r="6"/><circle class="g" cx="214" cy="470" r="6"/>
<circle class="g" cx="189" cy="476" r="6"/><circle class="g" cx="196" cy="476" r="6"/><circle class="g" cx="204" cy="476" r="6"/><circle class="g" cx="211" cy="476" r="6"/>
<circle class="g" cx="197" cy="482" r="6"/><circle class="g" cx="205" cy="482" r="6"/>
<circle class="g" cx="254" cy="389" r="6"/>
</g>
<g id="cluster-ring">
<circle class="r" cx="172" cy="368" r="6"/><circle class="r" cx="183" cy="368" r="6"/><circle class="r" cx="196" cy="370" r="6"/><circle class="gn" cx="170" cy="377" r="6"/><circle class="r" cx="160" cy="379" r="6"/><circle class="g" cx="203" cy="377" r="6"/>
<circle class="gn" cx="164" cy="388" r="6"/><circle class="r" cx="181" cy="383" r="6"/><circle class="gn" cx="186" cy="383" r="6"/><circle class="gn" cx="203" cy="387" r="6"/>
<circle class="r" cx="168" cy="395" r="6"/><circle class="r" cx="178" cy="397" r="6"/><circle class="s" cx="184" cy="393" r="6"/><circle class="gn" cx="197" cy="395" r="6"/>
</g>
<g id="cluster-left-mid">
<circle class="gn" cx="173" cy="200" r="6"/><circle class="r" cx="190" cy="207" r="6"/><circle class="r" cx="200" cy="208" r="6"/><circle class="y" cx="208" cy="210" r="6"/>
<circle class="r" cx="182" cy="215" r="6"/><circle class="r" cx="188" cy="213" r="6"/><circle class="gn" cx="198" cy="215" r="6"/><circle class="gn" cx="207" cy="216" r="6"/><circle class="gn" cx="187" cy="220" r="6"/><circle class="y" cx="198" cy="225" r="6"/>
<circle class="r" cx="197" cy="240" r="6"/><circle class="r" cx="204" cy="240" r="6"/><circle class="r" cx="211" cy="240" r="6"/>
<circle class="r" cx="192" cy="246" r="6"/><circle class="r" cx="199" cy="246" r="6"/><circle class="r" cx="206" cy="246" r="6"/><circle class="r" cx="213" cy="246" r="6"/><circle class="r" cx="218" cy="246" r="6"/>
<circle class="r" cx="190" cy="252" r="6"/><circle class="br" cx="202" cy="249" r="6"/><circle class="r" cx="197" cy="252" r="6"/><circle class="r" cx="211" cy="252" r="6"/><circle class="r" cx="218" cy="252" r="6"/>
<circle class="gn" cx="203" cy="260" r="6"/><circle class="gn" cx="210" cy="262" r="6"/>
<circle class="r" cx="194" cy="258" r="6"/><circle class="r" cx="201" cy="258" r="6"/><circle class="r" cx="215" cy="258" r="6"/>
<circle class="r" cx="280" cy="208" r="6"/><circle class="g" cx="254" cy="223" r="6"/><circle class="r" cx="229" cy="294" r="6"/>
<circle class="g" cx="357" cy="211" r="6"/><circle class="g" cx="375" cy="213" r="6"/><circle class="r" cx="374" cy="228" r="6"/>
</g>
<g id="cluster-A">
<circle class="g" cx="217" cy="307" r="6"/><circle class="g" cx="224" cy="310" r="6"/><circle class="g" cx="220" cy="318" r="6"/><circle class="g" cx="218" cy="326" r="6"/><circle class="g" cx="218" cy="333" r="6"/><circle class="g" cx="219" cy="342" r="6"/>
<circle class="g" cx="233" cy="326" r="6"/><circle class="g" cx="234" cy="336" r="6"/><circle class="g" cx="243" cy="318" r="6"/><circle class="g" cx="223" cy="312" r="6"/>
<circle class="y" cx="238" cy="325" r="6"/>
<circle class="r" cx="250" cy="325" r="6"/><circle class="r" cx="257" cy="325" r="6"/><circle class="r" cx="264" cy="325" r="6"/><circle class="r" cx="271" cy="325" r="6"/>
<circle class="r" cx="245" cy="331" r="6"/><circle class="r" cx="252" cy="331" r="6"/><circle class="r" cx="259" cy="331" r="6"/><circle class="r" cx="266" cy="331" r="6"/><circle class="r" cx="273" cy="331" r="6"/>
<circle class="r" cx="243" cy="337" r="6"/><circle class="r" cx="250" cy="337" r="6"/><circle class="r" cx="257" cy="337" r="6"/><circle class="r" cx="264" cy="337" r="6"/><circle class="r" cx="271" cy="337" r="6"/><circle class="r" cx="281" cy="340" r="6"/>
<circle class="r" cx="245" cy="343" r="6"/><circle class="r" cx="252" cy="343" r="6"/><circle class="r" cx="259" cy="343" r="6"/><circle class="r" cx="266" cy="343" r="6"/><circle class="r" cx="273" cy="343" r="6"/>
<circle class="r" cx="248" cy="349" r="6"/><circle class="r" cx="255" cy="349" r="6"/><circle class="r" cx="262" cy="349" r="6"/><circle class="r" cx="269" cy="349" r="6"/>
<circle class="r" cx="250" cy="355" r="6"/><circle class="r" cx="257" cy="355" r="6"/><circle class="r" cx="264" cy="355" r="6"/><circle class="r" cx="255" cy="360" r="6"/>
<circle class="y" cx="237" cy="349" r="6"/><circle class="g" cx="278" cy="358" r="6"/>
<circle class="g" cx="267" cy="275" r="6"/><circle class="r" cx="264" cy="281" r="6"/>
</g>
<g id="cluster-B">
<circle class="p" cx="299" cy="233" r="6"/><circle class="p" cx="305" cy="231" r="6"/><circle class="gn" cx="316" cy="228" r="6"/><circle class="g" cx="303" cy="250" r="6"/><circle class="g" cx="309" cy="246" r="6"/>
<circle class="r" cx="320" cy="242" r="6"/><circle class="r" cx="327" cy="243" r="6"/><circle class="r" cx="333" cy="241" r="6"/><circle class="r" cx="315" cy="250" r="6"/><circle class="r" cx="323" cy="252" r="6"/><circle class="r" cx="310" cy="257" r="6"/>
<circle class="r" cx="327" cy="260" r="6"/><circle class="r" cx="335" cy="262" r="6"/><circle class="r" cx="344" cy="257" r="6"/><circle class="r" cx="353" cy="250" r="6"/><circle class="r" cx="297" cy="265" r="6"/><circle class="r" cx="289" cy="273" r="6"/>
<circle class="r" cx="318" cy="265" r="6"/><circle class="r" cx="325" cy="268" r="6"/><circle class="r" cx="340" cy="265" r="6"/><circle class="r" cx="302" cy="272" r="6"/><circle class="r" cx="296" cy="280" r="6"/>
<circle class="r" cx="317" cy="277" r="6"/><circle class="r" cx="310" cy="283" r="6"/><circle class="r" cx="307" cy="290" r="6"/><circle class="r" cx="322" cy="285" r="6"/><circle class="r" cx="338" cy="273" r="6"/><circle class="r" cx="347" cy="280" r="6"/><circle class="r" cx="353" cy="270" r="6"/>
<circle class="r" cx="332" cy="283" r="6"/><circle class="r" cx="328" cy="292" r="6"/><circle class="r" cx="337" cy="293" r="6"/><circle class="r" cx="345" cy="288" r="6"/><circle class="r" cx="355" cy="295" r="6"/><circle class="r" cx="360" cy="280" r="6"/>
<circle class="r" cx="347" cy="303" r="6"/><circle class="r" cx="357" cy="303" r="6"/><circle class="r" cx="363" cy="290" r="6"/><circle class="r" cx="375" cy="273" r="6"/>
<circle class="r" cx="285" cy="288" r="6"/><circle class="r" cx="286" cy="300" r="6"/><circle class="y" cx="306" cy="299" r="6"/>
<circle class="g" cx="285" cy="308" r="6"/><circle class="lb" cx="295" cy="312" r="6"/><circle class="r" cx="293" cy="317" r="6"/><circle class="g" cx="307" cy="308" r="6"/><circle class="g" cx="307" cy="315" r="6"/><circle class="gn" cx="306" cy="318" r="6"/><circle class="gn" cx="313" cy="325" r="6"/><circle class="g" cx="324" cy="309" r="6"/>
<circle class="r" cx="345" cy="319" r="6"/><circle class="r" cx="346" cy="327" r="6"/><circle class="r" cx="327" cy="327" r="6"/><circle class="r" cx="325" cy="337" r="6"/><circle class="r" cx="337" cy="343" r="6"/><circle class="r" cx="342" cy="355" r="6"/><circle class="r" cx="353" cy="343" r="6"/><circle class="r" cx="362" cy="348" r="6"/><circle class="r" cx="377" cy="345" r="6"/>
<circle class="lb" cx="358" cy="304" r="6"/><circle class="r" cx="365" cy="307" r="6"/><circle class="b" cx="369" cy="315" r="6"/><circle class="gn" cx="368" cy="323" r="6"/>
<circle class="r" cx="286" cy="325" r="6"/><circle class="r" cx="288" cy="333" r="6"/><circle class="r" cx="292" cy="340" r="6"/><circle class="r" cx="293" cy="347" r="6"/><circle class="r" cx="303" cy="334" r="6"/><circle class="r" cx="315" cy="337" r="6"/>
</g>
<g id="cluster-C">
<circle class="r" cx="317" cy="353" r="6"/><circle class="r" cx="325" cy="360" r="6"/><circle class="r" cx="302" cy="367" r="6"/><circle class="r" cx="323" cy="370" r="6"/><circle class="r" cx="307" cy="375" r="6"/><circle class="r" cx="315" cy="380" r="6"/>
<circle class="r" cx="304" cy="385" r="6"/><circle class="r" cx="310" cy="383" r="6"/><circle class="r" cx="318" cy="388" r="6"/><circle class="r" cx="313" cy="390" r="6"/><circle class="r" cx="307" cy="397" r="6"/><circle class="r" cx="300" cy="398" r="6"/><circle class="r" cx="310" cy="402" r="6"/>
</g>
<g id="cluster-D">
<circle class="r" cx="380" cy="370" r="6"/><circle class="r" cx="360" cy="372" r="6"/><circle class="b" cx="367" cy="379" r="6"/><circle class="gn" cx="378" cy="377" r="6"/><circle class="r" cx="357" cy="387" r="6"/><circle class="r" cx="375" cy="385" r="6"/><circle class="r" cx="385" cy="387" r="6"/>
<circle class="r" cx="370" cy="390" r="6"/><circle class="r" cx="363" cy="393" r="6"/><circle class="r" cx="373" cy="398" r="6"/><circle class="gn" cx="383" cy="397" r="6"/><circle class="lb" cx="347" cy="385" r="6"/><circle class="r" cx="375" cy="413" r="6"/>
</g>
<g id="cluster-M">
<circle class="g" cx="388" cy="358" r="6"/><circle class="g" cx="396" cy="360" r="6"/><circle class="g" cx="404" cy="358" r="6"/><circle class="g" cx="412" cy="362" r="6"/><circle class="g" cx="420" cy="360" r="6"/><circle class="g" cx="427" cy="365" r="6"/><circle class="g" cx="432" cy="372" r="6"/><circle class="g" cx="425" cy="375" r="6"/><circle class="g" cx="440" cy="377" r="6"/>
<circle class="g" cx="415" cy="380" r="6"/><circle class="g" cx="423" cy="383" r="6"/><circle class="g" cx="431" cy="381" r="6"/><circle class="g" cx="439" cy="384" r="6"/><circle class="g" cx="447" cy="382" r="6"/>
<circle class="g" cx="412" cy="387" r="6"/><circle class="g" cx="420" cy="390" r="6"/><circle class="g" cx="428" cy="388" r="6"/><circle class="g" cx="436" cy="391" r="6"/><circle class="g" cx="444" cy="390" r="6"/>
<circle class="g" cx="418" cy="396" r="6"/><circle class="g" cx="426" cy="398" r="6"/><circle class="g" cx="434" cy="396" r="6"/><circle class="g" cx="442" cy="399" r="6"/><circle class="g" cx="450" cy="397" r="6"/>
<circle class="g" cx="424" cy="404" r="6"/><circle class="g" cx="432" cy="406" r="6"/><circle class="g" cx="440" cy="404" r="6"/><circle class="g" cx="448" cy="404" r="6"/>
</g>
<g id="cluster-E">
<circle class="gn" cx="395" cy="276" r="6"/><circle class="r" cx="385" cy="280" r="6"/><circle class="r" cx="392" cy="278" r="6"/><circle class="r" cx="400" cy="282" r="6"/><circle class="r" cx="408" cy="279" r="6"/>
<circle class="r" cx="383" cy="288" r="6"/><circle class="r" cx="390" cy="290" r="6"/><circle class="r" cx="397" cy="292" r="6"/><circle class="r" cx="405" cy="290" r="6"/><circle class="r" cx="412" cy="288" r="6"/><circle class="r" cx="420" cy="285" r="6"/>
<circle class="g" cx="425" cy="295" r="6"/><circle class="g" cx="428" cy="289" r="6"/><circle class="g" cx="399" cy="288" r="6"/><circle class="b" cx="410" cy="289" r="6"/>
<circle class="r" cx="388" cy="298" r="6"/><circle class="r" cx="395" cy="300" r="6"/><circle class="y" cx="398" cy="302" r="6"/>
<circle class="g" cx="420" cy="305" r="6"/><circle class="g" cx="428" cy="312" r="6"/><circle class="r" cx="403" cy="310" r="6"/><circle class="o" cx="413" cy="311" r="6"/><circle class="r" cx="412" cy="314" r="6"/><circle class="r" cx="420" cy="320" r="6"/>
<circle class="r" cx="385" cy="320" r="6"/><circle class="r" cx="398" cy="318" r="6"/><circle class="r" cx="392" cy="325" r="6"/><circle class="r" cx="405" cy="322" r="6"/><circle class="s" cx="390" cy="315" r="6"/>
<circle class="r" cx="393" cy="332" r="6"/><circle class="r" cx="400" cy="335" r="6"/><circle class="r" cx="407" cy="330" r="6"/><circle class="r" cx="414" cy="327" r="6"/><circle class="br" cx="386" cy="334" r="6"/>
<circle class="r" cx="388" cy="340" r="6"/><circle class="r" cx="398" cy="345" r="6"/><circle class="g" cx="410" cy="340" r="6"/><circle class="g" cx="417" cy="345" r="6"/><circle class="g" cx="423" cy="337" r="6"/><circle class="g" cx="428" cy="330" r="6"/>
<circle class="g" cx="405" cy="350" r="6"/><circle class="g" cx="412" cy="355" r="6"/><circle class="g" cx="420" cy="352" r="6"/><circle class="r" cx="425" cy="343" r="6"/><circle class="r" cx="432" cy="335" r="6"/>
</g>
<g id="cluster-H">
<circle class="g" cx="480" cy="190" r="6"/><circle class="g" cx="487" cy="190" r="6"/><circle class="g" cx="494" cy="190" r="6"/><circle class="g" cx="501" cy="190" r="6"/>
<circle class="g" cx="472" cy="196" r="6"/><circle class="g" cx="479" cy="196" r="6"/><circle class="g" cx="486" cy="196" r="6"/><circle class="g" cx="493" cy="196" r="6"/><circle class="g" cx="500" cy="196" r="6"/><circle class="g" cx="507" cy="196" r="6"/><circle class="g" cx="514" cy="196" r="6"/>
<circle class="g" cx="470" cy="202" r="6"/><circle class="g" cx="477" cy="202" r="6"/><circle class="g" cx="485" cy="202" r="6"/><circle class="g" cx="492" cy="202" r="6"/><circle class="g" cx="499" cy="202" r="6"/><circle class="g" cx="506" cy="202" r="6"/><circle class="g" cx="513" cy="202" r="6"/>
<circle class="g" cx="475" cy="208" r="6"/><circle class="g" cx="482" cy="208" r="6"/><circle class="g" cx="490" cy="208" r="6"/><circle class="g" cx="498" cy="208" r="6"/><circle class="g" cx="505" cy="208" r="6"/>
<circle class="g" cx="485" cy="214" r="6"/><circle class="g" cx="493" cy="214" r="6"/>
</g>
<g id="cluster-G">
<circle class="gn" cx="486" cy="228" r="6"/><circle class="r" cx="475" cy="235" r="6"/><circle class="r" cx="482" cy="232" r="6"/><circle class="r" cx="488" cy="237" r="6"/><circle class="r" cx="495" cy="240" r="6"/><circle class="r" cx="502" cy="236" r="6"/><circle class="r" cx="508" cy="232" r="6"/>
<circle class="r" cx="515" cy="236" r="6"/><circle class="r" cx="520" cy="240" r="6"/><circle class="r" cx="525" cy="245" r="6"/><circle class="p" cx="493" cy="232" r="6"/><circle class="lb" cx="517" cy="233" r="6"/>
<circle class="r" cx="480" cy="243" r="6"/><circle class="r" cx="487" cy="245" r="6"/><circle class="gn" cx="495" cy="243" r="6"/><circle class="r" cx="500" cy="247" r="6"/><circle class="r" cx="510" cy="247" r="6"/><circle class="r" cx="517" cy="250" r="6"/><circle class="gn" cx="528" cy="247" r="6"/>
<circle class="p" cx="479" cy="254" r="6"/><circle class="lb" cx="504" cy="252" r="6"/><circle class="r" cx="485" cy="267" r="6"/>
<circle class="gn" cx="427" cy="240" r="6"/><circle class="gn" cx="461" cy="247" r="6"/>
</g>
<g id="cluster-F">
<circle class="r" cx="425" cy="250" r="6"/><circle class="r" cx="432" cy="250" r="6"/><circle class="r" cx="440" cy="250" r="6"/><circle class="r" cx="448" cy="250" r="6"/><circle class="r" cx="456" cy="250" r="6"/>
<circle class="r" cx="422" cy="256" r="6"/><circle class="r" cx="429" cy="256" r="6"/><circle class="r" cx="436" cy="256" r="6"/><circle class="r" cx="443" cy="256" r="6"/><circle class="r" cx="450" cy="256" r="6"/><circle class="r" cx="458" cy="256" r="6"/><circle class="r" cx="465" cy="256" r="6"/>
<circle class="r" cx="425" cy="262" r="6"/><circle class="r" cx="432" cy="262" r="6"/><circle class="r" cx="440" cy="262" r="6"/><circle class="r" cx="448" cy="262" r="6"/><circle class="r" cx="455" cy="262" r="6"/><circle class="r" cx="462" cy="262" r="6"/><circle class="r" cx="470" cy="262" r="6"/>
<circle class="s" cx="442" cy="265" r="6"/><circle class="gn" cx="425" cy="268" r="6"/><circle class="gn" cx="435" cy="272" r="6"/>
<circle class="r" cx="450" cy="268" r="6"/><circle class="r" cx="457" cy="268" r="6"/><circle class="r" cx="465" cy="268" r="6"/><circle class="r" cx="472" cy="268" r="6"/>
<circle class="r" cx="440" cy="274" r="6"/><circle class="r" cx="447" cy="274" r="6"/><circle class="r" cx="455" cy="274" r="6"/><circle class="r" cx="462" cy="274" r="6"/><circle class="r" cx="469" cy="274" r="6"/>
<circle class="r" cx="440" cy="280" r="6"/><circle class="r" cx="447" cy="280" r="6"/><circle class="r" cx="455" cy="280" r="6"/><circle class="r" cx="463" cy="280" r="6"/><circle class="r" cx="448" cy="286" r="6"/><circle class="r" cx="458" cy="286" r="6"/>
<circle class="y" cx="427" cy="281" r="6"/>
</g>
<g id="cluster-I">
<circle class="r" cx="480" cy="283" r="6"/><circle class="r" cx="487" cy="280" r="6"/><circle class="r" cx="494" cy="285" r="6"/><circle class="r" cx="482" cy="292" r="6"/><circle class="pk" cx="493" cy="289" r="6"/>
<circle class="r" cx="490" cy="295" r="6"/><circle class="r" cx="498" cy="295" r="6"/><circle class="gn" cx="472" cy="298" r="6"/><circle class="r" cx="485" cy="302" r="6"/><circle class="r" cx="493" cy="305" r="6"/><circle class="r" cx="505" cy="300" r="6"/>
<circle class="br" cx="500" cy="302" r="6"/><circle class="y" cx="503" cy="308" r="6"/><circle class="b" cx="509" cy="309" r="6"/>
</g>
<g id="cluster-J">
<circle class="p" cx="520" cy="290" r="6"/><circle class="s" cx="530" cy="292" r="6"/><circle class="p" cx="525" cy="294" r="6"/><circle class="p" cx="522" cy="300" r="6"/><circle class="p" cx="528" cy="298" r="6"/>
<circle class="gn" cx="532" cy="303" r="6"/><circle class="gn" cx="527" cy="305" r="6"/><circle class="y" cx="530" cy="308" r="6"/><circle class="b" cx="527" cy="311" r="6"/><circle class="b" cx="533" cy="318" r="6"/><circle class="r" cx="525" cy="320" r="6"/>
<circle class="g" cx="548" cy="309" r="6"/><circle class="g" cx="550" cy="317" r="6"/><circle class="r" cx="553" cy="332" r="6"/>
</g>
<g id="cluster-K">
<circle class="r" cx="450" cy="310" r="6"/><circle class="r" cx="457" cy="307" r="6"/><circle class="r" cx="465" cy="310" r="6"/><circle class="r" cx="452" cy="318" r="6"/><circle class="r" cx="460" cy="320" r="6"/>
<circle class="gn" cx="469" cy="319" r="6"/><circle class="r" cx="455" cy="327" r="6"/><circle class="r" cx="462" cy="330" r="6"/><circle class="r" cx="470" cy="327" r="6"/><circle class="r" cx="448" cy="333" r="6"/><circle class="gn" cx="445" cy="326" r="6"/><circle class="s" cx="460" cy="326" r="6"/>
<circle class="g" cx="488" cy="320" r="6"/>
</g>
<g id="cluster-L">
<circle class="r" cx="470" cy="338" r="6"/><circle class="r" cx="477" cy="338" r="6"/><circle class="r" cx="484" cy="338" r="6"/><circle class="r" cx="490" cy="338" r="6"/>
<circle class="r" cx="465" cy="344" r="6"/><circle class="r" cx="472" cy="344" r="6"/><circle class="r" cx="479" cy="344" r="6"/><circle class="r" cx="486" cy="344" r="6"/><circle class="r" cx="493" cy="344" r="6"/>
<circle class="r" cx="467" cy="350" r="6"/><circle class="r" cx="474" cy="350" r="6"/><circle class="r" cx="481" cy="350" r="6"/><circle class="r" cx="488" cy="350" r="6"/><circle class="r" cx="494" cy="350" r="6"/>
<circle class="r" cx="472" cy="356" r="6"/><circle class="r" cx="480" cy="356" r="6"/><circle class="r" cx="487" cy="356" r="6"/>
<circle class="r" cx="503" cy="358" r="6"/><circle class="r" cx="450" cy="347" r="6"/><circle class="r" cx="457" cy="365" r="6"/>
<circle class="r" cx="463" cy="382" r="6"/><circle class="gn" cx="468" cy="380" r="6"/><circle class="gn" cx="477" cy="378" r="6"/><circle class="gn" cx="490" cy="373" r="6"/><circle class="r" cx="527" cy="389" r="6"/>
</g>
</svg>
